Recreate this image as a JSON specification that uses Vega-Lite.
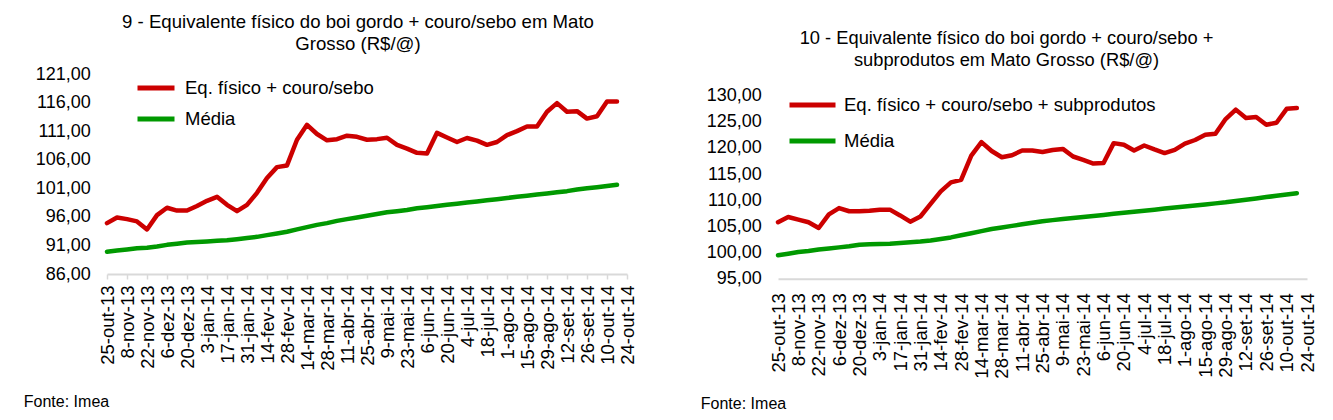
{
  "$schema": "https://vega.github.io/schema/vega-lite/v6.json",
  "background": "white",
  "padding": {"left": 23, "top": 13, "right": 5, "bottom": 5},
  "spacing": 63,
  "config": {
    "font": "Liberation Sans",
    "view": {"stroke": null},
    "axis": {"grid": false, "labelColor": "#000", "labelFont": "Liberation Sans", "titleColor": "#000", "titleFont": "Liberation Sans"},
    "legend": {"labelColor": "#000", "labelFont": "Liberation Sans"}
  },
  "resolve": {"scale": {"x": "independent", "y": "independent", "color": "independent"}, "legend": {"color": "independent"}},
  "datasets": {
    "esq": [
      {"semana": "2013-10-25", "eq": 94.9, "media": 89.9},
      {"semana": "2013-11-01", "eq": 95.9, "media": 90.1},
      {"semana": "2013-11-08", "eq": 95.6, "media": 90.3},
      {"semana": "2013-11-15", "eq": 95.2, "media": 90.5},
      {"semana": "2013-11-22", "eq": 93.8, "media": 90.6},
      {"semana": "2013-11-29", "eq": 96.3, "media": 90.8},
      {"semana": "2013-12-06", "eq": 97.6, "media": 91.1},
      {"semana": "2013-12-13", "eq": 97.1, "media": 91.3},
      {"semana": "2013-12-20", "eq": 97.1, "media": 91.5},
      {"semana": "2013-12-27", "eq": 97.9, "media": 91.6},
      {"semana": "2014-01-03", "eq": 98.8, "media": 91.7},
      {"semana": "2014-01-10", "eq": 99.5, "media": 91.8},
      {"semana": "2014-01-17", "eq": 98.1, "media": 91.9},
      {"semana": "2014-01-24", "eq": 97.0, "media": 92.1},
      {"semana": "2014-01-31", "eq": 98.1, "media": 92.3},
      {"semana": "2014-02-07", "eq": 100.2, "media": 92.5},
      {"semana": "2014-02-14", "eq": 102.8, "media": 92.8},
      {"semana": "2014-02-21", "eq": 104.7, "media": 93.1},
      {"semana": "2014-02-28", "eq": 105.0, "media": 93.4},
      {"semana": "2014-03-07", "eq": 109.5, "media": 93.8},
      {"semana": "2014-03-14", "eq": 112.1, "media": 94.2},
      {"semana": "2014-03-21", "eq": 110.5, "media": 94.6},
      {"semana": "2014-03-28", "eq": 109.4, "media": 94.9},
      {"semana": "2014-04-04", "eq": 109.6, "media": 95.3},
      {"semana": "2014-04-11", "eq": 110.2, "media": 95.6},
      {"semana": "2014-04-18", "eq": 110.0, "media": 95.9},
      {"semana": "2014-04-25", "eq": 109.5, "media": 96.2},
      {"semana": "2014-05-02", "eq": 109.6, "media": 96.5},
      {"semana": "2014-05-09", "eq": 109.85, "media": 96.8},
      {"semana": "2014-05-16", "eq": 108.6, "media": 97.0},
      {"semana": "2014-05-23", "eq": 107.95, "media": 97.2},
      {"semana": "2014-05-30", "eq": 107.2, "media": 97.5},
      {"semana": "2014-06-06", "eq": 107.1, "media": 97.7},
      {"semana": "2014-06-13", "eq": 110.7, "media": 97.9},
      {"semana": "2014-06-20", "eq": 109.9, "media": 98.1},
      {"semana": "2014-06-27", "eq": 109.1, "media": 98.3},
      {"semana": "2014-07-04", "eq": 109.8, "media": 98.5},
      {"semana": "2014-07-11", "eq": 109.35, "media": 98.7},
      {"semana": "2014-07-18", "eq": 108.6, "media": 98.9},
      {"semana": "2014-07-25", "eq": 109.1, "media": 99.1},
      {"semana": "2014-08-01", "eq": 110.3, "media": 99.3},
      {"semana": "2014-08-08", "eq": 111.0, "media": 99.5},
      {"semana": "2014-08-15", "eq": 111.8, "media": 99.7},
      {"semana": "2014-08-22", "eq": 111.8, "media": 99.9},
      {"semana": "2014-08-29", "eq": 114.4, "media": 100.1},
      {"semana": "2014-09-05", "eq": 115.9, "media": 100.3},
      {"semana": "2014-09-12", "eq": 114.4, "media": 100.5},
      {"semana": "2014-09-19", "eq": 114.5, "media": 100.8},
      {"semana": "2014-09-26", "eq": 113.2, "media": 101.0},
      {"semana": "2014-10-03", "eq": 113.6, "media": 101.2},
      {"semana": "2014-10-10", "eq": 116.2, "media": 101.4},
      {"semana": "2014-10-17", "eq": 116.2, "media": 101.6}
    ],
    "dir": [
      {"semana": "2013-10-25", "eq": 105.8, "media": 99.5},
      {"semana": "2013-11-01", "eq": 106.8, "media": 99.8},
      {"semana": "2013-11-08", "eq": 106.3, "media": 100.1},
      {"semana": "2013-11-15", "eq": 105.8, "media": 100.3},
      {"semana": "2013-11-22", "eq": 104.7, "media": 100.6},
      {"semana": "2013-11-29", "eq": 107.3, "media": 100.8},
      {"semana": "2013-12-06", "eq": 108.5, "media": 101.0},
      {"semana": "2013-12-13", "eq": 107.9, "media": 101.2},
      {"semana": "2013-12-20", "eq": 107.9, "media": 101.5},
      {"semana": "2013-12-27", "eq": 108.0, "media": 101.6},
      {"semana": "2014-01-03", "eq": 108.2, "media": 101.65},
      {"semana": "2014-01-10", "eq": 108.2, "media": 101.7},
      {"semana": "2014-01-17", "eq": 107.1, "media": 101.85},
      {"semana": "2014-01-24", "eq": 105.9, "media": 102.0},
      {"semana": "2014-01-31", "eq": 106.9, "media": 102.1},
      {"semana": "2014-02-07", "eq": 109.3, "media": 102.3},
      {"semana": "2014-02-14", "eq": 111.7, "media": 102.6},
      {"semana": "2014-02-21", "eq": 113.4, "media": 102.9},
      {"semana": "2014-02-28", "eq": 113.9, "media": 103.3},
      {"semana": "2014-03-07", "eq": 118.5, "media": 103.7},
      {"semana": "2014-03-14", "eq": 121.1, "media": 104.1},
      {"semana": "2014-03-21", "eq": 119.4, "media": 104.5},
      {"semana": "2014-03-28", "eq": 118.2, "media": 104.8},
      {"semana": "2014-04-04", "eq": 118.6, "media": 105.1},
      {"semana": "2014-04-11", "eq": 119.5, "media": 105.4},
      {"semana": "2014-04-18", "eq": 119.5, "media": 105.7},
      {"semana": "2014-04-25", "eq": 119.2, "media": 106.0},
      {"semana": "2014-05-02", "eq": 119.6, "media": 106.2},
      {"semana": "2014-05-09", "eq": 119.8, "media": 106.4},
      {"semana": "2014-05-16", "eq": 118.35, "media": 106.6},
      {"semana": "2014-05-23", "eq": 117.7, "media": 106.8},
      {"semana": "2014-05-30", "eq": 117.0, "media": 107.0},
      {"semana": "2014-06-06", "eq": 117.1, "media": 107.2},
      {"semana": "2014-06-13", "eq": 120.9, "media": 107.4},
      {"semana": "2014-06-20", "eq": 120.6, "media": 107.6},
      {"semana": "2014-06-27", "eq": 119.5, "media": 107.8},
      {"semana": "2014-07-04", "eq": 120.45, "media": 108.0},
      {"semana": "2014-07-11", "eq": 119.7, "media": 108.2},
      {"semana": "2014-07-18", "eq": 119.0, "media": 108.4},
      {"semana": "2014-07-25", "eq": 119.6, "media": 108.6},
      {"semana": "2014-08-01", "eq": 120.8, "media": 108.8},
      {"semana": "2014-08-08", "eq": 121.5, "media": 109.0},
      {"semana": "2014-08-15", "eq": 122.5, "media": 109.2},
      {"semana": "2014-08-22", "eq": 122.7, "media": 109.4},
      {"semana": "2014-08-29", "eq": 125.5, "media": 109.6},
      {"semana": "2014-09-05", "eq": 127.3, "media": 109.85},
      {"semana": "2014-09-12", "eq": 125.7, "media": 110.1},
      {"semana": "2014-09-19", "eq": 125.9, "media": 110.35},
      {"semana": "2014-09-26", "eq": 124.4, "media": 110.6},
      {"semana": "2014-10-03", "eq": 124.8, "media": 110.85},
      {"semana": "2014-10-10", "eq": 127.45, "media": 111.1},
      {"semana": "2014-10-17", "eq": 127.6, "media": 111.35}
    ]
  },
  "hconcat": [
    {
      "width": 520,
      "height": 200,
      "data": {"name": "esq"},
      "title": {
        "text": ["9 - Equivalente físico do boi gordo + couro/sebo em Mato", "Grosso (R$/@)"],
        "fontSize": 18.6, "fontWeight": "normal", "lineHeight": 22, "color": "#000", "font": "Liberation Sans",
        "anchor": "middle", "frame": "group", "dx": -9, "offset": 11.3
      },
      "encoding": {
        "x": {
          "field": "semana", "type": "temporal",
          "scale": {"type": "utc", "domain": [{"year": 2013, "month": 10, "date": 25, "utc": true}, {"year": 2014, "month": 10, "date": 24, "utc": true}]},
          "axis": {
            "title": "Fonte: Imea", "titleX": -83.7, "titleY": 127, "titleAlign": "left", "titleBaseline": "middle",
            "titleFontSize": 16, "titleFontWeight": "normal",
            "values": [
              {"year": 2013, "month": 10, "date": 25, "utc": true}, {"year": 2013, "month": 11, "date": 8, "utc": true},
              {"year": 2013, "month": 11, "date": 22, "utc": true}, {"year": 2013, "month": 12, "date": 6, "utc": true},
              {"year": 2013, "month": 12, "date": 20, "utc": true}, {"year": 2014, "month": 1, "date": 3, "utc": true},
              {"year": 2014, "month": 1, "date": 17, "utc": true}, {"year": 2014, "month": 1, "date": 31, "utc": true},
              {"year": 2014, "month": 2, "date": 14, "utc": true}, {"year": 2014, "month": 2, "date": 28, "utc": true},
              {"year": 2014, "month": 3, "date": 14, "utc": true}, {"year": 2014, "month": 3, "date": 28, "utc": true},
              {"year": 2014, "month": 4, "date": 11, "utc": true}, {"year": 2014, "month": 4, "date": 25, "utc": true},
              {"year": 2014, "month": 5, "date": 9, "utc": true}, {"year": 2014, "month": 5, "date": 23, "utc": true},
              {"year": 2014, "month": 6, "date": 6, "utc": true}, {"year": 2014, "month": 6, "date": 20, "utc": true},
              {"year": 2014, "month": 7, "date": 4, "utc": true}, {"year": 2014, "month": 7, "date": 18, "utc": true},
              {"year": 2014, "month": 8, "date": 1, "utc": true}, {"year": 2014, "month": 8, "date": 15, "utc": true},
              {"year": 2014, "month": 8, "date": 29, "utc": true}, {"year": 2014, "month": 9, "date": 12, "utc": true},
              {"year": 2014, "month": 9, "date": 26, "utc": true}, {"year": 2014, "month": 10, "date": 10, "utc": true},
              {"year": 2014, "month": 10, "date": 24, "utc": true}
            ],
            "labelExpr": "utcdate(datum.value) + '-' + ['jan','fev','mar','abr','mai','jun','jul','ago','set','out','nov','dez'][utcmonth(datum.value)] + '-' + utcFormat(datum.value, '%y')",
            "labelAngle": -90, "labelFontSize": 18.5, "labelPadding": 6, "labelOverlap": false, "labelFlush": false,
            "tickSize": 5, "tickColor": "#d9d9d9", "tickWidth": 1.5, "domainColor": "#d9d9d9", "domainWidth": 2
          }
        }
      },
      "layer": [
        {
          "mark": {"type": "line", "strokeWidth": 4.5, "strokeJoin": "round", "strokeCap": "round"},
          "encoding": {
            "y": {"field": "media", "type": "quantitative", "scale": {"domain": [86, 121], "nice": false, "zero": false},
              "axis": {"title": null, "values": [86, 91, 96, 101, 106, 111, 116, 121], "labelExpr": "replace(format(datum.value, '.2f'), '.', ',')", "domain": false, "ticks": false, "labelPadding": 16.7, "labelFontSize": 18}},
            "color": {"datum": "Média", "type": "nominal",
              "scale": {"domain": ["Eq. físico + couro/sebo", "Média"], "range": ["#cc0000", "#009900"]},
              "legend": {"title": null, "orient": "none", "legendX": 28, "legendY": -7, "symbolType": "stroke", "symbolSize": 1369, "symbolStrokeWidth": 5, "labelFontSize": 18.5, "labelOffset": 8, "rowPadding": -3, "labelLimit": 500}}
          }
        },
        {
          "mark": {"type": "line", "strokeWidth": 4.5, "strokeJoin": "round", "strokeCap": "round"},
          "encoding": {
            "y": {"field": "eq", "type": "quantitative", "scale": {"domain": [86, 121], "nice": false, "zero": false},
              "axis": {"title": null, "values": [86, 91, 96, 101, 106, 111, 116, 121], "labelExpr": "replace(format(datum.value, '.2f'), '.', ',')", "domain": false, "ticks": false, "labelPadding": 16.7, "labelFontSize": 18}},
            "color": {"datum": "Eq. físico + couro/sebo", "type": "nominal"}
          }
        }
      ]
    },
    {
      "width": 529,
      "height": 204.8,
      "data": {"name": "dir"},
      "title": {
        "text": ["10 - Equivalente físico do boi gordo + couro/sebo +", "subprodutos em Mato Grosso (R$/@)"],
        "fontSize": 18.3, "fontWeight": "normal", "lineHeight": 22, "color": "#000", "font": "Liberation Sans",
        "anchor": "middle", "frame": "group", "dx": -36, "offset": 3.9
      },
      "encoding": {
        "x": {
          "field": "semana", "type": "temporal",
          "scale": {"type": "utc", "domain": [{"year": 2013, "month": 10, "date": 25, "utc": true}, {"year": 2014, "month": 10, "date": 24, "utc": true}]},
          "axis": {
            "title": "Fonte: Imea", "titleX": -77.7, "titleY": 125, "titleAlign": "left", "titleBaseline": "middle",
            "titleFontSize": 16, "titleFontWeight": "normal",
            "values": [
              {"year": 2013, "month": 10, "date": 25, "utc": true}, {"year": 2013, "month": 11, "date": 8, "utc": true},
              {"year": 2013, "month": 11, "date": 22, "utc": true}, {"year": 2013, "month": 12, "date": 6, "utc": true},
              {"year": 2013, "month": 12, "date": 20, "utc": true}, {"year": 2014, "month": 1, "date": 3, "utc": true},
              {"year": 2014, "month": 1, "date": 17, "utc": true}, {"year": 2014, "month": 1, "date": 31, "utc": true},
              {"year": 2014, "month": 2, "date": 14, "utc": true}, {"year": 2014, "month": 2, "date": 28, "utc": true},
              {"year": 2014, "month": 3, "date": 14, "utc": true}, {"year": 2014, "month": 3, "date": 28, "utc": true},
              {"year": 2014, "month": 4, "date": 11, "utc": true}, {"year": 2014, "month": 4, "date": 25, "utc": true},
              {"year": 2014, "month": 5, "date": 9, "utc": true}, {"year": 2014, "month": 5, "date": 23, "utc": true},
              {"year": 2014, "month": 6, "date": 6, "utc": true}, {"year": 2014, "month": 6, "date": 20, "utc": true},
              {"year": 2014, "month": 7, "date": 4, "utc": true}, {"year": 2014, "month": 7, "date": 18, "utc": true},
              {"year": 2014, "month": 8, "date": 1, "utc": true}, {"year": 2014, "month": 8, "date": 15, "utc": true},
              {"year": 2014, "month": 8, "date": 29, "utc": true}, {"year": 2014, "month": 9, "date": 12, "utc": true},
              {"year": 2014, "month": 9, "date": 26, "utc": true}, {"year": 2014, "month": 10, "date": 10, "utc": true},
              {"year": 2014, "month": 10, "date": 24, "utc": true}
            ],
            "labelExpr": "utcdate(datum.value) + '-' + ['jan','fev','mar','abr','mai','jun','jul','ago','set','out','nov','dez'][utcmonth(datum.value)] + '-' + utcFormat(datum.value, '%y')",
            "labelAngle": -90, "labelFontSize": 18.5, "labelPadding": 14, "labelOverlap": false, "labelFlush": false,
            "ticks": false, "domainColor": "#d9d9d9", "domainWidth": 2
          }
        }
      },
      "layer": [
        {
          "mark": {"type": "line", "strokeWidth": 4.5, "strokeJoin": "round", "strokeCap": "round"},
          "encoding": {
            "y": {"field": "media", "type": "quantitative", "scale": {"domain": [95, 134.1], "nice": false, "zero": false},
              "axis": {"title": null, "values": [95, 100, 105, 110, 115, 120, 125, 130], "labelExpr": "replace(format(datum.value, '.2f'), '.', ',')", "domain": false, "ticks": false, "labelPadding": 16.7, "labelFontSize": 18}},
            "color": {"datum": "Média", "type": "nominal",
              "scale": {"domain": ["Eq. físico + couro/sebo + subprodutos", "Média"], "range": ["#cc0000", "#009900"]},
              "legend": {"title": null, "orient": "none", "legendX": 9, "legendY": 5.5, "symbolType": "stroke", "symbolSize": 2116, "symbolStrokeWidth": 5, "labelFontSize": 18.5, "labelOffset": 6, "rowPadding": -7, "labelLimit": 600}}
          }
        },
        {
          "mark": {"type": "line", "strokeWidth": 4.5, "strokeJoin": "round", "strokeCap": "round"},
          "encoding": {
            "y": {"field": "eq", "type": "quantitative", "scale": {"domain": [95, 134.1], "nice": false, "zero": false},
              "axis": {"title": null, "values": [95, 100, 105, 110, 115, 120, 125, 130], "labelExpr": "replace(format(datum.value, '.2f'), '.', ',')", "domain": false, "ticks": false, "labelPadding": 16.7, "labelFontSize": 18}},
            "color": {"datum": "Eq. físico + couro/sebo + subprodutos", "type": "nominal"}
          }
        }
      ]
    }
  ]
}
